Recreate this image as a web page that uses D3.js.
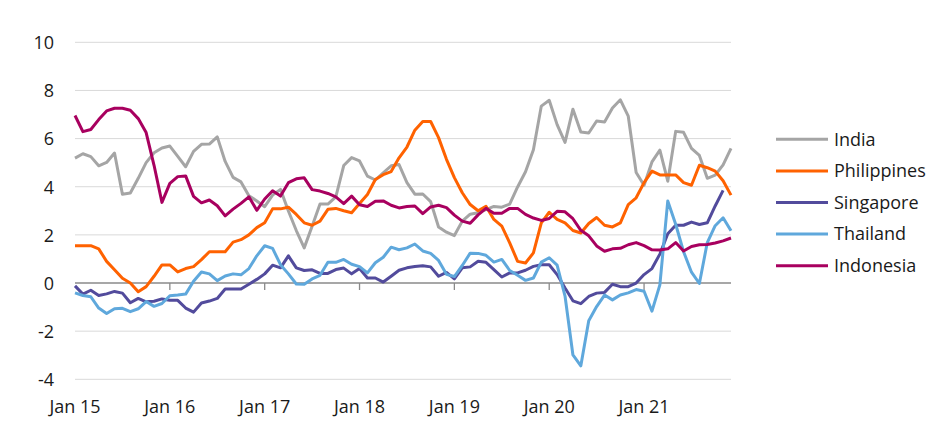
<!DOCTYPE html>
<html>
<head>
<meta charset="utf-8">
<script src="https://cdn.jsdelivr.net/npm/d3@7/dist/d3.min.js"></script>
<style>
  html, body { margin: 0; padding: 0; background: #fff; }
  svg text { font-family: "Open Sans", "DejaVu Sans", sans-serif; fill: #1a1a1a; }
</style>
</head>
<body>
<svg id="chart" width="952" height="438"></svg>
<script>
// Monthly year-on-year CPI inflation, Jan 2015 - Dec 2021 (month index 0..83)
const tickLabels = ["Jan 15", "Jan 16", "Jan 17", "Jan 18", "Jan 19", "Jan 20", "Jan 21"];
const yTicks = [-4, -2, 0, 2, 4, 6, 8, 10];
const seriesNames = ["India", "Philippines", "Singapore", "Thailand", "Indonesia"];
const seriesColors = ["#a5a5a5", "#ff6200", "#524b9c", "#5fa8dc", "#a8005f"];

const india = [
  5.19, 5.37, 5.25, 4.87, 5.01, 5.40, 3.69, 3.74, 4.35, 5.00, 5.41, 5.61,
  5.69, 5.26, 4.83, 5.47, 5.76, 5.77, 6.07, 5.05, 4.39, 4.20, 3.63, 3.41,
  3.17, 3.65, 3.89, 2.99, 2.18, 1.46, 2.36, 3.28, 3.28, 3.58, 4.88, 5.21,
  5.07, 4.44, 4.28, 4.58, 4.87, 4.92, 4.17, 3.69, 3.70, 3.38, 2.33, 2.11,
  1.97, 2.57, 2.86, 2.92, 3.05, 3.18, 3.15, 3.28, 3.99, 4.62, 5.54, 7.35,
  7.59, 6.58, 5.84, 7.22, 6.27, 6.23, 6.73, 6.69, 7.27, 7.61, 6.93, 4.59,
  4.06, 5.03, 5.52, 4.23, 6.30, 6.26, 5.59, 5.30, 4.35, 4.48, 4.91, 5.59
];
const philippines = [
  1.55, 1.55, 1.55, 1.42, 0.90, 0.55, 0.20, 0.00, -0.36, -0.15, 0.28, 0.75,
  0.75, 0.46, 0.60, 0.68, 0.97, 1.30, 1.30, 1.30, 1.70, 1.80, 2.00, 2.30,
  2.50, 3.08, 3.08, 3.15, 2.85, 2.50, 2.40, 2.57, 3.06, 3.10, 3.00, 2.92,
  3.30, 3.68, 4.30, 4.50, 4.63, 5.20, 5.65, 6.35, 6.71, 6.71, 6.04, 5.14,
  4.38, 3.75, 3.26, 3.00, 3.19, 2.64, 2.36, 1.67, 0.90, 0.83, 1.25, 2.50,
  2.94, 2.64, 2.50, 2.18, 2.08, 2.47, 2.72, 2.40, 2.33, 2.50, 3.26, 3.54,
  4.17, 4.65, 4.49, 4.49, 4.49, 4.17, 4.06, 4.89, 4.79, 4.65, 4.25, 3.65
];
const singapore = [
  -0.12, -0.46, -0.30, -0.52, -0.45, -0.35, -0.42, -0.82, -0.64, -0.78, -0.76, -0.66,
  -0.72, -0.72, -1.04, -1.21, -0.83, -0.75, -0.64, -0.25, -0.25, -0.25, -0.05, 0.15,
  0.38, 0.74, 0.63, 1.13, 0.63, 0.52, 0.55, 0.40, 0.40, 0.56, 0.62, 0.38,
  0.60, 0.21, 0.21, 0.04, 0.28, 0.53, 0.63, 0.69, 0.72, 0.67, 0.28, 0.44,
  0.17, 0.63, 0.67, 0.90, 0.86, 0.56, 0.25, 0.42, 0.42, 0.53, 0.69, 0.76,
  0.76, 0.35, -0.21, -0.74, -0.86, -0.56, -0.42, -0.39, -0.05, -0.15, -0.15, 0.00,
  0.35, 0.60, 1.20, 2.05, 2.40, 2.40, 2.53, 2.43, 2.50, 3.20, 3.85, null
];
const thailand = [
  -0.41, -0.52, -0.57, -1.04, -1.27, -1.07, -1.05, -1.19, -1.07, -0.77, -0.97, -0.85,
  -0.53, -0.50, -0.46, 0.07, 0.46, 0.38, 0.10, 0.29, 0.38, 0.34, 0.60, 1.13,
  1.55, 1.44, 0.76, 0.38, -0.04, -0.05, 0.17, 0.32, 0.86, 0.86, 0.98, 0.78,
  0.68, 0.42, 0.84, 1.07, 1.49, 1.38, 1.46, 1.62, 1.33, 1.23, 0.94, 0.36,
  0.27, 0.73, 1.24, 1.23, 1.15, 0.87, 0.98, 0.52, 0.32, 0.11, 0.21, 0.87,
  1.05, 0.74, -0.54, -2.99, -3.44, -1.57, -0.98, -0.50, -0.70, -0.50, -0.41, -0.27,
  -0.34, -1.17, -0.08, 3.41, 2.44, 1.30, 0.45, -0.02, 1.68, 2.38, 2.71, 2.17
];
const indonesia = [
  6.96, 6.29, 6.38, 6.79, 7.15, 7.26, 7.26, 7.18, 6.83, 6.25, 4.89, 3.35,
  4.14, 4.42, 4.45, 3.60, 3.33, 3.45, 3.21, 2.79, 3.07, 3.31, 3.58, 3.02,
  3.49, 3.83, 3.61, 4.17, 4.33, 4.37, 3.88, 3.82, 3.72, 3.58, 3.30, 3.61,
  3.25, 3.18, 3.40, 3.41, 3.23, 3.12, 3.18, 3.20, 2.88, 3.16, 3.23, 3.13,
  2.82, 2.57, 2.48, 2.83, 3.10, 2.90, 2.90, 3.10, 3.10, 2.85, 2.70, 2.60,
  2.68, 2.98, 2.96, 2.67, 2.19, 1.96, 1.54, 1.32, 1.42, 1.44, 1.59, 1.68,
  1.55, 1.38, 1.37, 1.42, 1.68, 1.33, 1.52, 1.59, 1.60, 1.66, 1.75, 1.87
];

const seriesValues = [india, philippines, singapore, thailand, indonesia];
const nMonths = india.length;

const svg = d3.select("#chart");
const plot = { left: 75, right: 731, top: 42.3, bottom: 379.3 };

const x = d3.scaleLinear().domain([0, nMonths - 1]).range([plot.left, plot.right]);
const y = d3.scaleLinear().domain([-4, 10]).range([plot.bottom, plot.top]);

// gridlines
svg.append("g").selectAll("line")
  .data(yTicks.filter(d => d !== 0))
  .join("line")
  .attr("x1", plot.left).attr("x2", plot.right)
  .attr("y1", d => y(d)).attr("y2", d => y(d))
  .attr("stroke", "#d9d9d9").attr("stroke-width", 1);

// y axis labels (plain hyphen minus as in the original)
const yAxis = d3.axisLeft(y).tickValues(yTicks).tickSize(0).tickPadding(0).tickFormat(d => String(d));
const yg = svg.append("g").attr("transform", `translate(${plot.left - 21},0)`).call(yAxis);
yg.select(".domain").remove();
yg.selectAll("text").style("font-size", "18px").attr("fill", "#1a1a1a").attr("dy", "0.35em");

// zero axis with year ticks
const tickIdx = tickLabels.map((_, i) => i * 12);
svg.append("line")
  .attr("x1", plot.left).attr("x2", plot.right)
  .attr("y1", y(0)).attr("y2", y(0))
  .attr("stroke", "#8a8a8a").attr("stroke-width", 1.3);
svg.append("g").selectAll("line")
  .data(tickIdx.filter(d => d > 0))
  .join("line")
  .attr("x1", d => x(d)).attr("x2", d => x(d))
  .attr("y1", y(0)).attr("y2", y(0) + 7)
  .attr("stroke", "#8a8a8a").attr("stroke-width", 1.3);

// x labels
svg.append("g").selectAll("text")
  .data(tickLabels)
  .join("text")
  .attr("x", (d, i) => x(tickIdx[i]))
  .attr("y", 413)
  .attr("text-anchor", "middle")
  .style("font-size", "18px")
  .text(d => d);

// lines
const line = d3.line()
  .defined(d => d !== null)
  .x((d, i) => x(i))
  .y(d => y(d));

svg.append("g").selectAll("path")
  .data(seriesValues)
  .join("path")
  .attr("d", d => line(d))
  .attr("fill", "none")
  .attr("stroke", (d, i) => seriesColors[i])
  .attr("stroke-width", 3)
  .attr("stroke-linejoin", "round");

// legend
const legendY = d3.scalePoint().domain(seriesNames).range([139.3, 265.7]);
const lg = svg.append("g").selectAll("g")
  .data(seriesNames)
  .join("g")
  .attr("transform", d => `translate(0,${legendY(d)})`);
lg.append("line")
  .attr("x1", 776).attr("x2", 828)
  .attr("stroke", (d, i) => seriesColors[i])
  .attr("stroke-width", 3);
lg.append("text")
  .attr("x", 834).attr("dy", "0.35em")
  .style("font-size", "18px")
  .text(d => d);
</script>
</body>
</html>
